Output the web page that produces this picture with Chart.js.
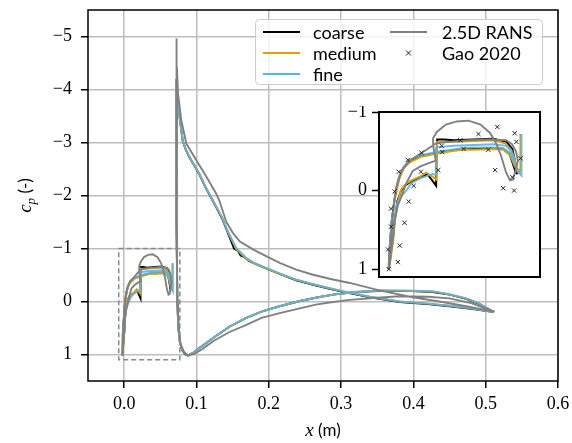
<!DOCTYPE html>
<html>
<head>
<meta charset="utf-8">
<script src="https://cdn.jsdelivr.net/npm/chart.js@4.4.1/dist/chart.umd.min.js"></script>
<style>
html, body { margin: 0; padding: 0; background: #fff; }
#wrap { position: relative; width: 572px; height: 443px; }
#main { position: absolute; left: 0; top: 0; }
#inset { position: absolute; left: 339px; top: 106px; }
</style>
</head>
<body>
<div id="wrap">
<canvas id="main" width="572" height="443"></canvas>
<canvas id="inset" width="206" height="176"></canvas>
</div>
<script>
// axes
const xTicks = [0.0, 0.1, 0.2, 0.3, 0.4, 0.5, 0.6];
const yTicks = [-5, -4, -3, -2, -1, 0, 1];
const insetYTicks = [-1, 0, 1];
const xRange = [-0.05, 0.6];
const yRange = [-5.5, 1.5];

// zoom box (also the inset limits)
const boxX = [-0.0075, 0.077, 0.077, -0.0075, -0.0075];
const boxY = [-1.0, -1.0, 1.1, 1.1, -1.0];

const seriesLabels = ['coarse', 'medium', 'fine', '2.5D RANS', 'Gao 2020'];
const seriesColors = ['#000000', '#E69F00', '#56B4E9', '#808080', '#000000'];

// slat, coarse
const slatCoarseX = [0.0652, 0.0645, 0.0637, 0.0625, 0.0594, 0.0525, 0.0421, 0.0318, 0.0266, 0.0230, 0.0227, 0.0225, 0.0204, 0.0179, 0.0145, 0.0095, 0.0059, 0.0041, 0.0022, 0.0007, -0.0003, -0.0014, -0.0024, -0.0022, -0.0016, -0.0009, 0.0002, 0.0012, 0.0030, 0.0054, 0.0085, 0.0145, 0.0249, 0.0359, 0.0421, 0.0525, 0.0577, 0.0611, 0.0628, 0.0642, 0.0652];
const slatCoarseY = [-0.21, -0.25, -0.40, -0.53, -0.62, -0.66, -0.65, -0.64, -0.65, -0.65, -0.38, -0.06, -0.13, -0.21, -0.17, -0.12, -0.06, 0.0, 0.13, 0.38, 0.63, 0.82, 1.0, 0.82, 0.63, 0.40, 0.19, 0.03, -0.16, -0.29, -0.38, -0.44, -0.49, -0.53, -0.53, -0.54, -0.53, -0.46, -0.34, -0.23, -0.21];
// slat, medium
const slatMediumX = [0.0667, 0.0667, 0.0649, 0.0634, 0.0618, 0.0587, 0.0525, 0.0421, 0.0318, 0.0230, 0.0227, 0.0204, 0.0173, 0.0142, 0.0095, 0.0059, 0.0041, 0.0025, 0.0009, 0.0000, -0.0011, -0.0023, -0.0021, -0.0015, -0.0007, 0.0003, 0.0015, 0.0033, 0.0056, 0.0087, 0.0145, 0.0249, 0.0359, 0.0421, 0.0525, 0.0577, 0.0613, 0.0634, 0.0652, 0.0667];
const slatMediumY = [-0.72, -0.25, -0.28, -0.42, -0.52, -0.60, -0.64, -0.63, -0.62, -0.62, -0.14, -0.18, -0.23, -0.18, -0.13, -0.07, -0.01, 0.13, 0.38, 0.63, 0.82, 1.0, 0.82, 0.63, 0.40, 0.19, 0.03, -0.16, -0.29, -0.36, -0.43, -0.48, -0.52, -0.52, -0.53, -0.52, -0.45, -0.33, -0.24, -0.23];
// slat, fine
const slatFineX = [0.0673, 0.0673, 0.0654, 0.0639, 0.0623, 0.0592, 0.0525, 0.0421, 0.0318, 0.0224, 0.0224, 0.0205, 0.0145, 0.0095, 0.0068, 0.0033, 0.0016, 0.0004, -0.0003, -0.0014, -0.0024, -0.0022, -0.0016, -0.0009, 0.0002, 0.0012, 0.0030, 0.0054, 0.0085, 0.0145, 0.0249, 0.0359, 0.0421, 0.0525, 0.0577, 0.0613, 0.0639, 0.0657, 0.0673];
const slatFineY = [-0.72, -0.19, -0.24, -0.38, -0.49, -0.57, -0.59, -0.58, -0.57, -0.55, -0.20, -0.21, -0.16, -0.09, 0.0, 0.10, 0.19, 0.44, 0.57, 0.75, 1.0, 0.82, 0.63, 0.40, 0.19, 0.01, -0.18, -0.30, -0.39, -0.45, -0.50, -0.54, -0.55, -0.55, -0.54, -0.48, -0.35, -0.23, -0.19];
// slat, 2.5D RANS
const slatRansX = [-0.0022, -0.0010, 0.0000, 0.0007, 0.0024, 0.0042, 0.0068, 0.0102, 0.0145, 0.0197, 0.0223, 0.0209, 0.0209, 0.0230, 0.0276, 0.0333, 0.0395, 0.0458, 0.0509, 0.0540, 0.0566, 0.0592, 0.0613, 0.0628, 0.0641, 0.0654, 0.0644, 0.0623, 0.0592, 0.0499, 0.0395, 0.0292, 0.0224, 0.0162, 0.0085, 0.0043, 0.0017, 0.0002, -0.0009, -0.0019, -0.0022];
const slatRansY = [1.0, 0.75, 0.57, 0.38, 0.19, 0.08, -0.09, -0.25, -0.31, -0.36, -0.38, -0.57, -0.67, -0.75, -0.84, -0.88, -0.89, -0.84, -0.73, -0.60, -0.44, -0.23, -0.13, -0.14, -0.25, -0.38, -0.50, -0.59, -0.64, -0.65, -0.64, -0.62, -0.60, -0.50, -0.38, -0.25, -0.06, 0.19, 0.50, 0.82, 1.0];

// main element, fine (suction side TE -> LE, then pressure side LE -> TE)
const mainFineX = [0.5115, 0.48, 0.45, 0.42, 0.381, 0.34, 0.30, 0.284, 0.26, 0.238, 0.215, 0.197, 0.18, 0.169, 0.155, 0.148, 0.1436, 0.136, 0.123, 0.113, 0.104, 0.096, 0.0906, 0.085, 0.081, 0.0768, 0.0754, 0.073, 0.0722,
  0.0724, 0.0727, 0.0735, 0.075, 0.077, 0.080, 0.084, 0.088, 0.095, 0.104, 0.113, 0.123, 0.145, 0.169, 0.19, 0.215, 0.243, 0.265, 0.289, 0.32, 0.358, 0.39, 0.427, 0.45, 0.473, 0.49, 0.5115];
const mainFineY = [0.20, 0.13, 0.08, 0.04, 0.0, -0.09, -0.20, -0.25, -0.33, -0.41, -0.53, -0.63, -0.73, -0.82, -1.01, -1.20, -1.32, -1.57, -1.90, -2.15, -2.41, -2.60, -2.72, -2.88, -3.04, -3.47, -3.60, -4.00, -4.19,
  -3.0, -1.5, 0.0, 0.5, 0.75, 0.90, 0.98, 1.02, 0.97, 0.88, 0.79, 0.69, 0.48, 0.31, 0.19, 0.09, -0.01, -0.07, -0.13, -0.18, -0.21, -0.21, -0.19, -0.14, -0.06, 0.03, 0.20];
// main element, medium
const mainMediumX = mainFineX;
const mainMediumY = [0.20, 0.13, 0.08, 0.04, 0.0, -0.09, -0.20, -0.25, -0.33, -0.41, -0.52, -0.62, -0.72, -0.80, -0.99, -1.18, -1.31, -1.57, -1.90, -2.15, -2.41, -2.60, -2.72, -2.88, -3.04, -3.47, -3.60, -4.00, -4.19,
  -3.0, -1.5, 0.0, 0.5, 0.76, 0.90, 0.98, 1.02, 0.97, 0.88, 0.79, 0.69, 0.48, 0.31, 0.19, 0.09, -0.01, -0.07, -0.13, -0.18, -0.21, -0.20, -0.19, -0.13, -0.06, 0.03, 0.20];
// main element, coarse
const mainCoarseX = [0.5115, 0.48, 0.45, 0.42, 0.381, 0.34, 0.30, 0.284, 0.26, 0.238, 0.215, 0.197, 0.18, 0.172, 0.166, 0.161, 0.157, 0.152, 0.148, 0.1436, 0.136, 0.123, 0.113, 0.104, 0.096, 0.0906, 0.085, 0.081, 0.0768, 0.0754, 0.073, 0.0722,
  0.0724, 0.0727, 0.0735, 0.075, 0.077, 0.080, 0.084, 0.088, 0.095, 0.104, 0.113, 0.123, 0.145, 0.169, 0.19, 0.215, 0.243, 0.265, 0.289, 0.32, 0.358, 0.39, 0.427, 0.45, 0.473, 0.49, 0.5115];
const mainCoarseY = [0.20, 0.14, 0.09, 0.05, 0.01, -0.08, -0.19, -0.24, -0.32, -0.40, -0.52, -0.62, -0.72, -0.77, -0.84, -0.87, -0.96, -1.00, -1.14, -1.29, -1.55, -1.89, -2.14, -2.40, -2.59, -2.71, -2.87, -3.03, -3.46, -3.60, -4.00, -4.20,
  -3.0, -1.5, 0.0, 0.5, 0.76, 0.91, 0.99, 1.02, 0.97, 0.88, 0.79, 0.69, 0.48, 0.31, 0.19, 0.09, -0.01, -0.07, -0.13, -0.18, -0.20, -0.20, -0.18, -0.13, -0.05, 0.04, 0.20];
// main element, 2.5D RANS
const mainRansX = [0.512, 0.473, 0.44, 0.395, 0.35, 0.312, 0.284, 0.26, 0.238, 0.215, 0.197, 0.18, 0.16, 0.15, 0.141, 0.132, 0.1275, 0.114, 0.1, 0.086, 0.079, 0.0745, 0.073, 0.0722,
  0.0724, 0.0728, 0.0737, 0.0755, 0.078, 0.083, 0.089, 0.097, 0.108, 0.123, 0.145, 0.169, 0.19, 0.215, 0.243, 0.265, 0.284, 0.312, 0.35, 0.381, 0.42, 0.45, 0.48, 0.512];
const mainRansY = [0.19, 0.09, 0.01, -0.09, -0.22, -0.35, -0.43, -0.51, -0.60, -0.73, -0.85, -0.97, -1.13, -1.30, -1.51, -1.89, -2.03, -2.35, -2.66, -2.98, -3.42, -3.92, -4.42, -4.96,
  -3.5, -1.5, 0.0, 0.5, 0.8, 0.96, 1.02, 0.99, 0.9, 0.75, 0.58, 0.44, 0.31, 0.22, 0.13, 0.06, 0.02, -0.03, -0.07, -0.10, -0.09, -0.06, 0.03, 0.19];

// experiment (Gao 2020), slat only
const gaoX = [-0.0024, 0.0024, -0.0028, 0.0034, -0.0012, 0.0059, -0.0012, 0.0081, 0.0007, 0.0107, 0.0029, 0.0145, 0.0076, 0.0148, 0.0236, 0.0257, 0.0254, 0.0352, 0.0369, 0.0447, 0.0499, 0.0546, 0.0637, 0.0646, 0.0668, 0.0534, 0.0625, 0.0577, 0.0634];
const gaoY = [1.0, 0.91, 0.75, 0.70, 0.46, 0.41, 0.23, 0.14, 0.01, -0.06, -0.24, -0.24, -0.39, -0.48, -0.26, -0.49, -0.57, -0.64, -0.53, -0.72, -0.52, -0.81, -0.73, -0.62, -0.41, -0.26, -0.17, -0.03, 0.0];

const serif = '"Liberation Serif", "DejaVu Serif", serif';
const sans = 'Lato, "DejaVu Sans", sans-serif';

function pts(xs, ys) {
  return xs.map((x, i) => ({ x: x, y: ys[i] }));
}

function lineSet(xs, ys, k, order) {
  let color = seriesColors[k];
  if (k === 2) color = 'rgba(86,180,233,0.9)';
  return {
    label: seriesLabels[k],
    data: pts(xs, ys),
    showLine: true,
    borderColor: color,
    borderWidth: 1.9,
    pointRadius: 0,
    fill: false,
    tension: 0,
    order: order
  };
}

function minusFmt(v) {
  return v < 0 ? '\u2212' + Math.abs(v) : String(v);
}

function fixTicks(list) {
  return scale => { scale.ticks = list.map(v => ({ value: v })); };
}

// keep chart area fixed: no extra room for edge labels
function fitY(w) {
  return s => { s.width = w; s.paddingTop = 0; s.paddingBottom = 0; };
}
function fitX(h) {
  return s => { s.height = h; s.paddingLeft = 0; s.paddingRight = 0; };
}

const framePlugin = {
  id: 'frame',
  beforeDraw(chart, args, opts) {
    if (!opts.fill) return;
    const a = chart.chartArea, ctx = chart.ctx;
    ctx.save();
    ctx.fillStyle = '#fff';
    ctx.fillRect(a.left, a.top, a.right - a.left, a.bottom - a.top);
    ctx.restore();
  },
  afterDatasetsDraw(chart, args, opts) {
    const a = chart.chartArea, ctx = chart.ctx;
    ctx.save();
    ctx.strokeStyle = '#000';
    ctx.lineWidth = opts.width || 1.5;
    ctx.strokeRect(a.left, a.top, a.right - a.left, a.bottom - a.top);
    ctx.restore();
  }
};

// axis titles and legend box, drawn on the main canvas
const decorPlugin = {
  id: 'decor',
  afterDraw(chart) {
    const ctx = chart.ctx, a = chart.chartArea;
    ctx.save();
    ctx.fillStyle = '#000';
    ctx.textBaseline = 'alphabetic';

    // x title
    ctx.font = 'italic 19px ' + serif;
    const wx = ctx.measureText('x').width;
    ctx.font = '17px ' + sans;
    const wu = ctx.measureText(' (m)').width;
    let x0 = (a.left + a.right) / 2 - (wx + wu) / 2;
    ctx.font = 'italic 19px ' + serif;
    ctx.fillText('x', x0, 436);
    ctx.font = '17px ' + sans;
    ctx.fillText(' (m)', x0 + wx, 436);

    // y title
    ctx.save();
    ctx.translate(31, (a.top + a.bottom) / 2);
    ctx.rotate(-Math.PI / 2);
    ctx.font = 'italic 19px ' + serif;
    const wc = ctx.measureText('c').width;
    ctx.font = 'italic 13px ' + serif;
    const wp = ctx.measureText('p').width;
    ctx.font = '17px ' + sans;
    const wd = ctx.measureText(' (-)').width;
    let y0 = -(wc + wp + wd) / 2;
    ctx.font = 'italic 19px ' + serif;
    ctx.fillText('c', y0, 0);
    ctx.font = 'italic 13px ' + serif;
    ctx.fillText('p', y0 + wc, 4);
    ctx.font = '17px ' + sans;
    ctx.fillText(' (-)', y0 + wc + wp, 0);
    ctx.restore();

    // legend
    ctx.beginPath();
    ctx.roundRect(255.5, 19.5, 287, 65, 4);
    ctx.fillStyle = 'rgba(255,255,255,0.8)';
    ctx.fill();
    ctx.strokeStyle = '#cccccc';
    ctx.lineWidth = 1;
    ctx.stroke();

    const rows = [32, 53, 74];
    const cols = [{ lx: 263, tx: 313 }, { lx: 390, tx: 442 }];
    ctx.font = '18px ' + sans;
    ctx.textBaseline = 'middle';
    seriesLabels.forEach((lab, i) => {
      const c = cols[i < 3 ? 0 : 1];
      const y = rows[i < 3 ? i : i - 3];
      if (i === 4) {
        const mx = c.lx + 18.5;
        ctx.strokeStyle = '#222';
        ctx.lineWidth = 1;
        ctx.beginPath();
        ctx.moveTo(mx - 2.5, y - 2.5); ctx.lineTo(mx + 2.5, y + 2.5);
        ctx.moveTo(mx - 2.5, y + 2.5); ctx.lineTo(mx + 2.5, y - 2.5);
        ctx.stroke();
      } else {
        ctx.strokeStyle = seriesColors[i];
        ctx.lineWidth = 1.9;
        ctx.beginPath();
        ctx.moveTo(c.lx, y); ctx.lineTo(c.lx + 37, y);
        ctx.stroke();
      }
      ctx.fillStyle = '#000';
      ctx.fillText(lab, c.tx, y + 1);
    });
    ctx.restore();
  }
};

const gridStyle = { color: '#bdbdbd', lineWidth: 1.5, tickLength: 7, tickColor: '#000', tickWidth: 1.5 };

new Chart(document.getElementById('main'), {
  type: 'scatter',
  data: {
    datasets: [
      lineSet(slatCoarseX, slatCoarseY, 0, 9),
      lineSet(mainCoarseX, mainCoarseY, 0, 8),
      lineSet(slatMediumX, slatMediumY, 1, 7),
      lineSet(mainMediumX, mainMediumY, 1, 6),
      lineSet(slatFineX, slatFineY, 2, 5),
      lineSet(mainFineX, mainFineY, 2, 4),
      lineSet(slatRansX, slatRansY, 3, 3),
      lineSet(mainRansX, mainRansY, 3, 2),
      {
        label: 'zoom',
        data: pts(boxX, boxY),
        showLine: true,
        borderColor: '#8a8a8a',
        borderWidth: 1.5,
        borderDash: [5, 3],
        pointRadius: 0,
        order: 1
      }
    ]
  },
  options: {
    responsive: false,
    animation: false,
    events: [],
    layout: { padding: { left: 0, right: 14, top: 10, bottom: 0 } },
    plugins: {
      legend: { display: false },
      tooltip: { enabled: false },
      frame: { width: 1.5 }
    },
    scales: {
      x: {
        type: 'linear',
        min: xRange[0], max: xRange[1],
        afterBuildTicks: fixTicks(xTicks),
        afterFit: fitX(62),
        grid: gridStyle,
        border: { display: false },
        ticks: { color: '#000', padding: 5, font: { family: serif, size: 18 }, callback: v => v.toFixed(1) }
      },
      y: {
        type: 'linear',
        reverse: true,
        min: yRange[0], max: yRange[1],
        afterBuildTicks: fixTicks(yTicks),
        afterFit: fitY(88),
        grid: gridStyle,
        border: { display: false },
        ticks: { color: '#000', padding: 9, font: { family: serif, size: 18 }, callback: minusFmt }
      }
    }
  },
  plugins: [framePlugin, decorPlugin]
});

new Chart(document.getElementById('inset'), {
  type: 'scatter',
  data: {
    datasets: [
      lineSet(slatCoarseX, slatCoarseY, 0, 5),
      lineSet(slatMediumX, slatMediumY, 1, 4),
      lineSet(slatFineX, slatFineY, 2, 3),
      lineSet(slatRansX, slatRansY, 3, 2),
      {
        label: seriesLabels[4],
        data: pts(gaoX, gaoY),
        showLine: false,
        pointStyle: 'crossRot',
        pointRadius: 3,
        pointBorderColor: '#222',
        pointBorderWidth: 1,
        order: 1
      }
    ]
  },
  options: {
    responsive: false,
    animation: false,
    events: [],
    layout: { padding: { left: 0, right: 2, top: 6, bottom: 4 } },
    plugins: {
      legend: { display: false },
      tooltip: { enabled: false },
      frame: { width: 2, fill: true }
    },
    scales: {
      x: {
        type: 'linear',
        display: false,
        min: boxX[0], max: boxX[1]
      },
      y: {
        type: 'linear',
        reverse: true,
        min: boxY[0], max: boxY[2],
        afterBuildTicks: fixTicks(insetYTicks),
        afterFit: fitY(40),
        grid: { drawOnChartArea: false, tickLength: 7, tickColor: '#000', tickWidth: 1.5 },
        border: { display: false },
        ticks: { color: '#000', padding: 5, font: { family: serif, size: 18 }, callback: minusFmt }
      }
    }
  },
  plugins: [framePlugin]
});
</script>
</body>
</html>
